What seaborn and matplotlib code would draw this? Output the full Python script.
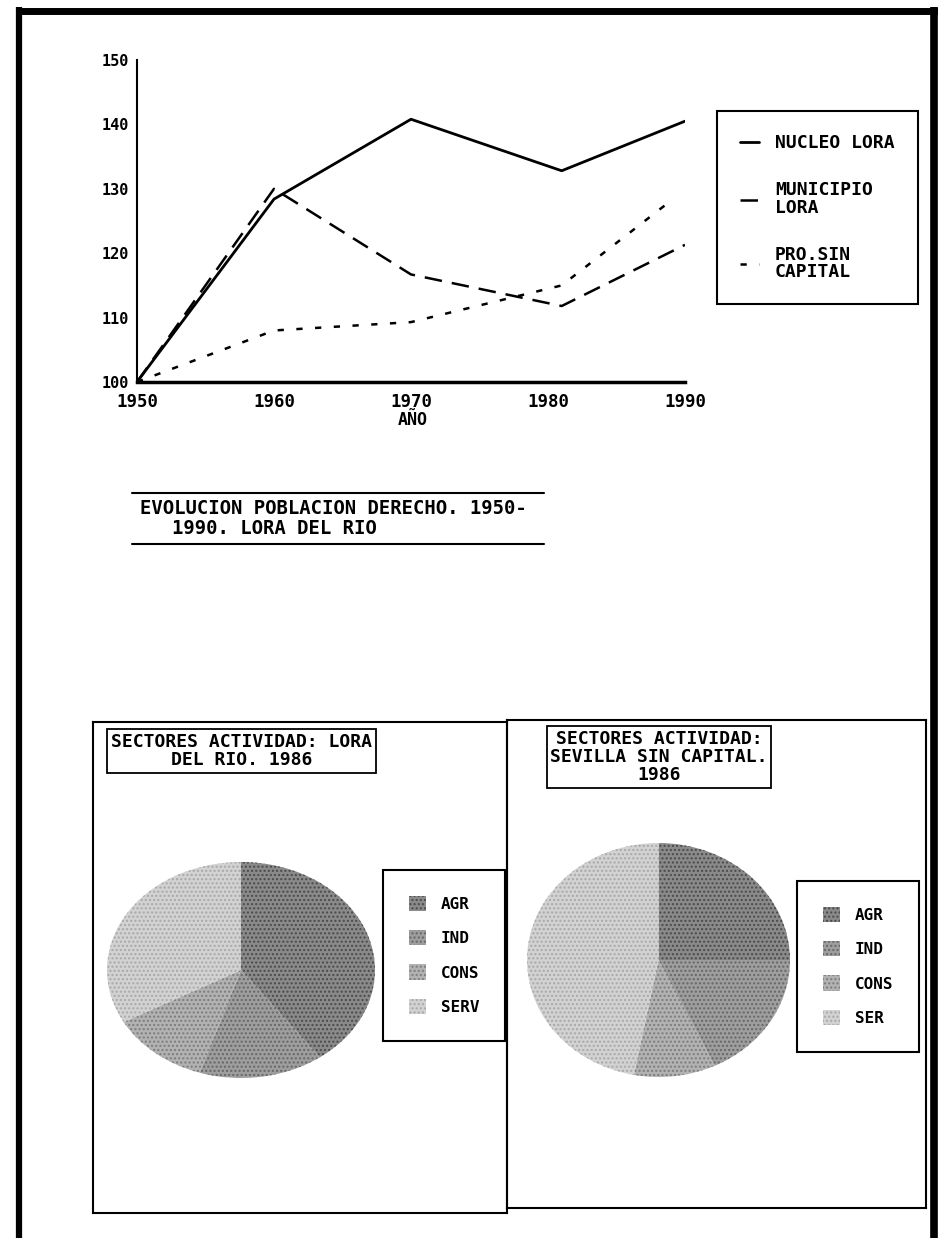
import matplotlib
matplotlib.use("Agg")
import matplotlib.pyplot as plt
from matplotlib.patches import Rectangle
from matplotlib.lines import Line2D
import seaborn as sns
import pandas as pd

# Datos: evolución de la población de derecho (índice 1950 = 100)
years = [1950, 1960, 1970, 1981, 1990]
nucleo_lora = [100, 128.4, 140.8, 132.8, 140.5]
municipio_lora = [100, 130.0, 116.7, 111.8, 121.3]
prov_years = [1950, 1960, 1970, 1981, 1989]
prov_sin_capital = [100, 108.0, 109.3, 115.0, 128.2]
y_ticks = [100, 110, 120, 130, 140, 150]
x_ticks = [1950, 1960, 1970, 1980, 1990]

# Sectores de actividad 1986 (%)
sectores_lora = ["AGR", "IND", "CONS", "SERV"]
valores_lora = [40, 15, 12, 33]
sectores_sevilla = ["AGR", "IND", "CONS", "SER"]
valores_sevilla = [25, 18, 10, 47]
grises = ["#8a8a8a", "#9e9e9e", "#b2b2b2", "#d2d2d2"]
puntos = ["#4a4a4a", "#666666", "#7c7c7c", "#a8a8a8"]

sns.set_style("white")
plt.rcParams["font.family"] = ["DejaVu Sans Mono", "DejaVu Sans"]
plt.rcParams["font.weight"] = "bold"
plt.rcParams["text.color"] = "black"
plt.rcParams["xtick.color"] = "black"
plt.rcParams["ytick.color"] = "black"

W, H = 938, 1238
fig = plt.figure(figsize=(W / 100, H / 100), dpi=100)


def box(x0, y0, x1, y1):
    return [x0 / W, 1 - y1 / H, (x1 - x0) / W, (y1 - y0) / H]


def fx(x):
    return x / W


def fy(y):
    return 1 - y / H


# marco de la página
for xs, ys, lw in [([16, 938], [10.5, 10.5], 5), ([19, 19], [7, 1238], 4.5),
                   ([934, 934], [7, 1238], 5.5)]:
    fig.add_artist(Line2D([fx(v) for v in xs], [fy(v) for v in ys], color="black",
                          lw=lw, solid_capstyle="butt"))

# ---- gráfico de líneas ----
ax = fig.add_axes(box(137, 60, 685, 382))
df = pd.DataFrame({"AÑO": years, "NUCLEO LORA": nucleo_lora, "MUNICIPIO LORA": municipio_lora})
df_prov = pd.DataFrame({"AÑO": prov_years, "PRO.SIN CAPITAL": prov_sin_capital})
sns.lineplot(data=df, x="AÑO", y="NUCLEO LORA", ax=ax, color="black", lw=2.0,
             label="NUCLEO LORA")
sns.lineplot(data=df, x="AÑO", y="MUNICIPIO LORA", ax=ax, color="black", lw=1.8,
             linestyle=(0, (7, 4)), label="MUNICIPIO\nLORA")
sns.lineplot(data=df_prov, x="AÑO", y="PRO.SIN CAPITAL", ax=ax, color="black", lw=1.8,
             linestyle=(0, (2.5, 5)), label="PRO.SIN\nCAPITAL")
ax.set_xlim(1950, 1990)
ax.set_ylim(100, 150)
ax.set_xticks(x_ticks)
ax.set_yticks(y_ticks)
ax.set_xticklabels([str(t) for t in x_ticks], fontsize=12.5, fontweight="bold")
ax.set_yticklabels([str(t) for t in y_ticks], fontsize=11, fontweight="bold")
ax.tick_params(axis="both", direction="inout", length=8, width=1.5, color="black", pad=2)
ax.tick_params(axis="x", pad=4)
for s in ["top", "right"]:
    ax.spines[s].set_visible(False)
for s in ["left", "bottom"]:
    ax.spines[s].set_color("black")
ax.spines["left"].set_linewidth(1.5)
ax.spines["bottom"].set_linewidth(2.5)
ax.set_xlabel("")
ax.set_ylabel("")
ax.patch.set_alpha(0)
leg = ax.legend(loc="upper left", bbox_to_anchor=(fx(717), fy(111)),
                bbox_transform=fig.transFigure, frameon=True, fancybox=False,
                edgecolor="black", framealpha=1, fontsize=13, handlelength=1.0,
                handletextpad=0.9, labelspacing=1.6, borderpad=1.3, borderaxespad=0)
leg.get_frame().set_linewidth(1.5)
for t in leg.get_texts():
    t.set_linespacing(0.95)
fig.text(fx(413), fy(420), "AÑO", ha="center", va="center", fontsize=12, fontweight="bold")

# título del gráfico de líneas
fig.add_artist(Line2D([fx(132), fx(544)], [fy(493), fy(493)], color="black", lw=1.5))
fig.add_artist(Line2D([fx(132), fx(544)], [fy(544), fy(544)], color="black", lw=1.5))
fig.text(fx(140), fy(508), "EVOLUCION POBLACION DERECHO. 1950-", ha="left", va="center",
         fontsize=13.6, fontweight="bold")
fig.text(fx(172), fy(528), "1990. LORA DEL RIO", ha="left", va="center",
         fontsize=13.6, fontweight="bold")

# ---- paneles de sectores ----
paneles = [
    dict(frame=(93, 722, 507, 1213), pie=(107, 862, 375, 1078), leg=(383, 870),
         title="SECTORES ACTIVIDAD: LORA\nDEL RIO. 1986", tpos=(241.5, 751),
         labels=sectores_lora, values=valores_lora),
    dict(frame=(507, 720, 926, 1208), pie=(527, 843, 790, 1077), leg=(797, 881),
         title="SECTORES ACTIVIDAD:\nSEVILLA SIN CAPITAL.\n1986", tpos=(659, 757),
         labels=sectores_sevilla, values=valores_sevilla),
]

for p in paneles:
    fr = fig.add_axes(box(*p["frame"]))
    fr.set_xticks([])
    fr.set_yticks([])
    for s in fr.spines.values():
        s.set_visible(True)
        s.set_color("black")
        s.set_linewidth(1.5)
    fr.patch.set_alpha(0)

    pa = fig.add_axes(box(*p["pie"]))
    wedges, _ = pa.pie(p["values"], startangle=90, counterclock=False, colors=grises,
                       wedgeprops=dict(linewidth=0), radius=1.0)
    for w, c in zip(wedges, puntos):
        w.set_hatch("....")
        w.set_edgecolor(c)
    pa.set_aspect("auto")
    pa.set_xlim(-1, 1)
    pa.set_ylim(-1, 1)
    pa.axis("off")

    handles = [Rectangle((0, 0), 1, 1, facecolor=g, edgecolor=c, hatch="....", lw=0)
               for g, c in zip(grises, puntos)]
    lg = fig.legend(handles, p["labels"], loc="upper left",
                    bbox_to_anchor=(fx(p["leg"][0]), fy(p["leg"][1])),
                    frameon=True, fancybox=False, edgecolor="black", framealpha=1,
                    fontsize=11.5, handlelength=1.1, handleheight=1.1, handletextpad=0.9,
                    labelspacing=1.15, borderpad=1.6, borderaxespad=0)
    lg.get_frame().set_linewidth(1.5)

    fig.text(fx(p["tpos"][0]), fy(p["tpos"][1]), p["title"], ha="center", va="center",
             multialignment="center", fontsize=13, fontweight="bold", linespacing=1.0,
             bbox=dict(boxstyle="square,pad=0.2", facecolor="white", edgecolor="black", lw=1.3))

fig.savefig("out.png", dpi=100, facecolor="white")
